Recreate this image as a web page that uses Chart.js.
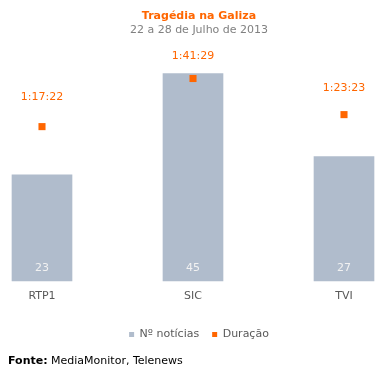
<!DOCTYPE html>
<html>
<head>
<meta charset="utf-8">
<script src="https://cdn.jsdelivr.net/npm/chart.js@4"></script>
<style>
  html, body { margin: 0; padding: 0; background: #fff; }
  #wrap { position: relative; width: 385px; height: 378px; }
  #fonte { position: absolute; left: 8px; top: 354px; font: 11px "DejaVu Sans", Verdana, sans-serif; color: #000; }
</style>
</head>
<body>
<div id="wrap">
  <canvas id="chart" width="385" height="378"></canvas>
  <div id="fonte"><b>Fonte:</b> MediaMonitor, Telenews</div>
</div>
<script>
const CANAIS = ["RTP1", "SIC", "TVI"];
const NOTICIAS = [23, 45, 27];
const DURACAO = ["1:17:22", "1:41:29", "1:23:23"];
// décalage vertical des étiquettes de durée (px au-dessus du point)
const DECALAGE = [29, 22, 26];

const FONT = '"DejaVu Sans", Verdana, sans-serif';

function toSec(s) {
  const [h, m, sec] = s.split(":").map(Number);
  return h * 3600 + m * 60 + sec;
}

// étiquettes des valeurs (barres et durées)
const valueLabels = {
  id: "valueLabels",
  afterDatasetsDraw(chart) {
    const ctx = chart.ctx;
    ctx.save();
    ctx.textAlign = "center";
    ctx.textBaseline = "middle";
    ctx.font = `11px ${FONT}`;

    chart.getDatasetMeta(0).data.forEach((bar, i) => {
      ctx.fillStyle = "#f2f2f2";
      ctx.fillText(NOTICIAS[i], bar.x, bar.base - 13);
    });
    chart.getDatasetMeta(1).data.forEach((pt, i) => {
      ctx.fillStyle = "#ff6600";
      ctx.fillText(DURACAO[i], pt.x, pt.y - DECALAGE[i]);
    });
    ctx.restore();
  },
};

new Chart(document.getElementById("chart"), {
  data: {
    datasets: [
      {
        type: "bar",
        label: "Nº notícias",
        data: CANAIS.map((c, i) => ({ x: i, y: NOTICIAS[i] })),
        backgroundColor: "#b0bccc",
        barThickness: 60,
        yAxisID: "y",
        order: 2,
        clip: false,
      },
      {
        type: "line",
        label: "Duração",
        data: CANAIS.map((c, i) => ({ x: i, y: toSec(DURACAO[i]) })),
        showLine: false,
        pointStyle: "rect",
        pointRadius: 5,
        // marge de dessin : le 1er point est à gauche de la zone du graphique
        pointHoverRadius: 20,
        pointBorderWidth: 0,
        borderWidth: 0,
        backgroundColor: "#ff6600",
        borderColor: "#ff6600",
        yAxisID: "y1",
        order: 1,
        clip: false,
      },
    ],
  },
  options: {
    responsive: false,
    animation: false,
    events: [],
    layout: { padding: { left: 54, right: 41, top: 0, bottom: 28 } },
    plugins: {
      title: {
        display: true,
        text: "Tragédia na Galiza",
        color: "#ff6600",
        font: { family: FONT, size: 11, weight: "bold" },
        padding: { top: 10, bottom: 0 },
      },
      subtitle: {
        display: true,
        text: "22 a 28 de Julho de 2013",
        color: "#808080",
        font: { family: FONT, size: 11 },
        padding: { top: 0, bottom: 14 },
      },
      legend: {
        position: "bottom",
        labels: {
          boxWidth: 5,
          boxHeight: 5,
          padding: 13,
          color: "#595959",
          font: { family: FONT, size: 11 },
          sort: (a, b) => a.datasetIndex - b.datasetIndex,
        },
      },
      tooltip: { enabled: false },
    },
    scales: {
      x: {
        type: "linear",
        offset: false,
        min: 0.0795,
        max: 2,
        grid: { display: false, offset: false },
        border: { display: false },
        afterBuildTicks: (scale) => {
          scale.ticks = CANAIS.map((c, i) => ({ value: i }));
        },
        afterFit: (scale) => {
          scale.height = 35;
        },
        ticks: {
          autoSkip: false,
          maxRotation: 0,
          color: "#595959",
          font: { family: FONT, size: 11 },
          padding: 1,
          callback: (v) => CANAIS[v],
        },
      },
      y: { display: false, min: 0, max: 50 },
      y1: { display: false, min: 0, max: 6934 },
    },
  },
  plugins: [valueLabels],
});
</script>
</body>
</html>
